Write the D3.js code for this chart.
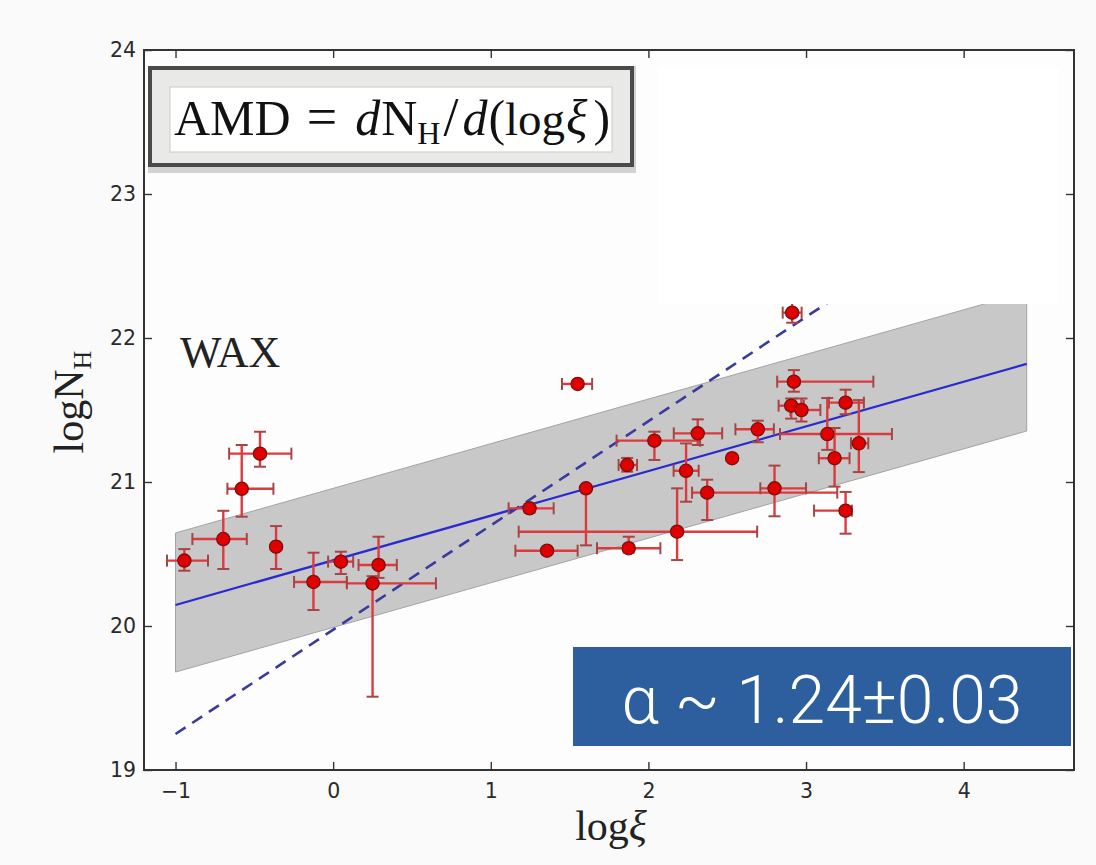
<!DOCTYPE html>
<html>
<head>
<meta charset="utf-8">
<script src="https://cdn.jsdelivr.net/npm/d3@7/dist/d3.min.js"></script>
<style>
  html, body { margin: 0; padding: 0; background: #fafafa; }
  svg { display: block; }
</style>
</head>
<body>
<svg id="chart" width="1096" height="865"></svg>
<script>
// ---- data: WAX sample, log column density vs log ionisation parameter ----
const logXi   = [-0.944, -0.697, -0.580, -0.464, -0.362, -0.125, 0.049, 0.288, 0.250,
                 1.551, 1.246, 1.604, 2.182, 1.357, 1.875, 1.865, 2.038, 2.313, 2.694,
                 2.531, 2.239, 2.373, 2.800, 3.181, 2.912, 2.923, 2.906, 2.971, 3.251,
                 3.135, 3.335, 3.251];
const logNH   = [20.454, 20.604, 20.953, 21.197, 20.551, 20.306, 20.447, 20.424, 20.296,
                 21.681, 20.817, 20.956, 20.655, 20.523, 20.540, 21.118, 21.287, 21.338, 21.366,
                 21.165, 21.078, 20.926, 20.956, 21.165, 22.176, 21.697, 21.530, 21.500, 21.551,
                 21.333, 21.269, 20.801];
const xErrLo  = [0.11, 0.196, 0.091, 0.196, 0.02, 0.123, 0.081, 0.127, 0.163,
                 0.099, 0.133, 0.0, 1.005, 0.201, 0.201, 0.054, 0.24, 0.152, 0.142,
                 0.0, 0.079, 0.096, 0.09, 0.10, 0.06, 0.106, 0.08, 0.07, 0.106,
                 0.30, 0.05, 0.20];
const xErrHi  = [0.15, 0.149, 0.201, 0.199, 0.02, 0.212, 0.078, 0.116, 0.402,
                 0.092, 0.153, 0.0, 0.508, 0.194, 0.201, 0.063, 0.29, 0.155, 0.102,
                 0.0, 0.080, 0.825, 0.20, 0.095, 0.06, 0.504, 0.08, 0.12, 0.116,
                 0.41, 0.06, 0.04];
const yErrLo  = [0.07, 0.208, 0.194, 0.091, 0.155, 0.195, 0.086, 0.09, 0.787,
                 0.0, 0.03, 0.396, 0.197, 0.02, 0.03, 0.046, 0.134, 0.081, 0.09,
                 0.0, 0.215, 0.190, 0.194, 0.197, 0.07, 0.07, 0.09, 0.08, 0.08,
                 0.11, 0.20, 0.16];
const yErrHi  = [0.08, 0.196, 0.304, 0.152, 0.143, 0.203, 0.069, 0.196, 0.05,
                 0.0, 0.03, 0.0, 0.301, 0.02, 0.08, 0.049, 0.0625, 0.097, 0.06,
                 0.0, 0.19, 0.09, 0.158, 0.21, 0.07, 0.08, 0.05, 0.08, 0.09,
                 0.25, 0.30, 0.13];

// best fit (solid), its confidence band, and the steeper relation (dashed)
const fitX       = [-1.0, 4.4];
const fitY       = [20.146, 21.82];
const bandUpper  = [20.646, 22.32];
const bandLower  = [19.68, 21.354];
const steepY     = [19.25, 23.16];

const xTicks = [-1, 0, 1, 2, 3, 4];
const yTicks = [19, 20, 21, 22, 23, 24];
const xDomain = [-1.2, 4.7];
const yDomain = [19, 24];

const alphaLabel = "α ~ 1.24±0.03";

// ---- layout ----
const svg = d3.select("#chart");
const plot = { left: 144, right: 1074, top: 50, bottom: 770 };

const x = d3.scaleLinear().domain(xDomain).range([plot.left, plot.right]);
const y = d3.scaleLinear().domain(yDomain).range([plot.bottom, plot.top]);

// plot background
svg.append("rect")
  .attr("x", plot.left).attr("y", plot.top)
  .attr("width", plot.right - plot.left).attr("height", plot.bottom - plot.top)
  .attr("fill", "#fdfdfd");

const clip = svg.append("defs").append("clipPath").attr("id", "plotclip");
clip.append("rect")
  .attr("x", plot.left).attr("y", plot.top)
  .attr("width", plot.right - plot.left).attr("height", plot.bottom - plot.top);

const g = svg.append("g").attr("clip-path", "url(#plotclip)");

// confidence band
const bandData = fitX.map((v, i) => ({ x: v, lo: bandLower[i], hi: bandUpper[i] }));
g.append("path")
  .datum(bandData)
  .attr("d", d3.area().x(d => x(d.x)).y0(d => y(d.lo)).y1(d => y(d.hi)))
  .attr("fill", "#c8c8c8")
  .attr("stroke", "#a3a3a3")
  .attr("stroke-width", 1);

// steeper relation (dashed)
g.append("path")
  .datum(fitX.map((v, i) => [v, steepY[i]]))
  .attr("d", d3.line().x(d => x(d[0])).y(d => y(d[1])))
  .attr("fill", "none")
  .attr("stroke", "#3a3a9e")
  .attr("stroke-width", 2.6)
  .attr("stroke-dasharray", "12,8");

// best-fit line
g.append("path")
  .datum(fitX.map((v, i) => [v, fitY[i]]))
  .attr("d", d3.line().x(d => x(d[0])).y(d => y(d[1])))
  .attr("fill", "none")
  .attr("stroke", "#2a2ad0")
  .attr("stroke-width", 2.2);

// error bars
const pts = logXi.map((v, i) => ({
  x: v, y: logNH[i],
  xl: v - xErrLo[i], xh: v + xErrHi[i],
  yl: logNH[i] - yErrLo[i], yh: logNH[i] + yErrHi[i],
  hasX: xErrLo[i] + xErrHi[i] > 0, hasY: yErrLo[i] + yErrHi[i] > 0
}));

const cap = 6;
const eb = g.append("g").attr("class", "errorbars");
pts.forEach(p => {
  if (p.hasX) {
    eb.append("line")
      .attr("x1", x(p.xl)).attr("x2", x(p.xh))
      .attr("y1", y(p.y)).attr("y2", y(p.y))
      .attr("stroke", "#dc3a3e").attr("stroke-width", 2.4);
    [p.xl, p.xh].forEach(v => eb.append("line")
      .attr("x1", x(v)).attr("x2", x(v))
      .attr("y1", y(p.y) - cap).attr("y2", y(p.y) + cap)
      .attr("stroke", "#a54646").attr("stroke-width", 2));
  }
  if (p.hasY) {
    eb.append("line")
      .attr("x1", x(p.x)).attr("x2", x(p.x))
      .attr("y1", y(p.yl)).attr("y2", y(p.yh))
      .attr("stroke", "#dc3a3e").attr("stroke-width", 2.4);
    [p.yl, p.yh].forEach(v => eb.append("line")
      .attr("x1", x(p.x) - cap).attr("x2", x(p.x) + cap)
      .attr("y1", y(v)).attr("y2", y(v))
      .attr("stroke", "#a54646").attr("stroke-width", 2));
  }
});

// data points
g.append("g").selectAll("circle")
  .data(pts)
  .join("circle")
  .attr("cx", d => x(d.x))
  .attr("cy", d => y(d.y))
  .attr("r", 6.6)
  .attr("fill", "#e00000")
  .attr("stroke", "#7a1010")
  .attr("stroke-width", 1.3);

// blank panel in the upper right
svg.append("rect")
  .attr("x", 659).attr("y", 68).attr("width", 400).attr("height", 236)
  .attr("fill", "#ffffff");

// ---- axes (ticks point inward on all four sides) ----
const tickStyle = sel => {
  sel.select(".domain").remove();
  sel.selectAll(".tick line").attr("stroke", "#333").attr("stroke-width", 1.4);
  sel.selectAll("text")
    .attr("font-family", "DejaVu Sans, sans-serif")
    .attr("font-size", 20.5)
    .attr("fill", "#2a2a2a");
};

svg.append("g").attr("transform", `translate(0,${plot.bottom})`)
  .call(d3.axisBottom(x).tickValues(xTicks).tickSize(-8).tickPadding(13).tickFormat(d3.format("d")))
  .call(tickStyle);
svg.append("g").attr("transform", `translate(0,${plot.top})`)
  .call(d3.axisTop(x).tickValues(xTicks).tickSize(-8).tickFormat(""))
  .call(tickStyle);
svg.append("g").attr("transform", `translate(${plot.left},0)`)
  .call(d3.axisLeft(y).tickValues(yTicks).tickSize(-8).tickPadding(8).tickFormat(d3.format("d")))
  .call(tickStyle);
svg.append("g").attr("transform", `translate(${plot.right},0)`)
  .call(d3.axisRight(y).tickValues(yTicks).tickSize(-8).tickFormat(""))
  .call(tickStyle);

// frame
svg.append("rect")
  .attr("x", plot.left).attr("y", plot.top)
  .attr("width", plot.right - plot.left).attr("height", plot.bottom - plot.top)
  .attr("fill", "none").attr("stroke", "#333").attr("stroke-width", 2);

// ---- axis titles ----
const serif = "Liberation Serif, Times New Roman, DejaVu Serif, serif";
const xl = svg.append("text")
  .attr("x", 611).attr("y", 840)
  .attr("text-anchor", "middle")
  .attr("font-family", serif).attr("font-size", 42).attr("fill", "#222");
xl.append("tspan").text("log");
xl.append("tspan").attr("font-style", "italic").text("ξ");

const yl = svg.append("text")
  .attr("transform", "translate(83,402) rotate(-90)")
  .attr("text-anchor", "middle")
  .attr("font-family", serif).attr("font-size", 42).attr("fill", "#222");
yl.append("tspan").text("logN");
yl.append("tspan").attr("font-size", 26).attr("dy", 8).text("H");

// ---- WAX tag ----
svg.append("text")
  .attr("x", 180).attr("y", 367)
  .attr("font-family", serif).attr("font-size", 44).attr("fill", "#222")
  .text("WAX");

// ---- AMD definition box ----
svg.append("rect")
  .attr("x", 148).attr("y", 66).attr("width", 488).attr("height", 107)
  .attr("fill", "#d2d2d2");
svg.append("rect")
  .attr("x", 150).attr("y", 68).attr("width", 482).attr("height", 97)
  .attr("fill", "#e9e9e7").attr("stroke", "#4a4a4a").attr("stroke-width", 4);
svg.append("rect")
  .attr("x", 170).attr("y", 87).attr("width", 442).attr("height", 65)
  .attr("fill", "#ffffff").attr("stroke", "#c9c9c9").attr("stroke-width", 1);

// formula as one text run, with TeX-like spacing between the pieces
const amd = svg.append("text")
  .attr("x", 174).attr("y", 135)
  .attr("font-family", serif).attr("font-size", 50).attr("fill", "#111");
amd.append("tspan").text("AMD");
amd.append("tspan").attr("dx", 16).attr("font-size", 54).text("=");
amd.append("tspan").attr("dx", 18).attr("font-style", "italic").text("d");
amd.append("tspan").attr("dx", 1).text("N");
amd.append("tspan").attr("font-size", 32).attr("dy", 9).text("H");
amd.append("tspan").attr("dy", -9).attr("dx", 3).attr("font-size", 54).text("/");
amd.append("tspan").attr("dx", 4).attr("font-style", "italic").text("d");
amd.append("tspan").attr("dx", 1).text("(");
amd.append("tspan").attr("font-size", 47).text("log");
amd.append("tspan").attr("dx", 1).attr("font-style", "italic").text("ξ");
amd.append("tspan").attr("dx", 6).text(")");

// ---- slope annotation ----
svg.append("rect")
  .attr("x", 573).attr("y", 647).attr("width", 498).attr("height", 99)
  .attr("fill", "#2d5f9e");
svg.append("text")
  .attr("x", 822).attr("y", 723)
  .attr("text-anchor", "middle")
  .attr("font-family", "Roboto, Lato, Open Sans, sans-serif")
  .attr("font-weight", 300)
  .attr("font-size", 66)
  .attr("fill", "#ffffff")
  .text(alphaLabel);
</script>
</body>
</html>
